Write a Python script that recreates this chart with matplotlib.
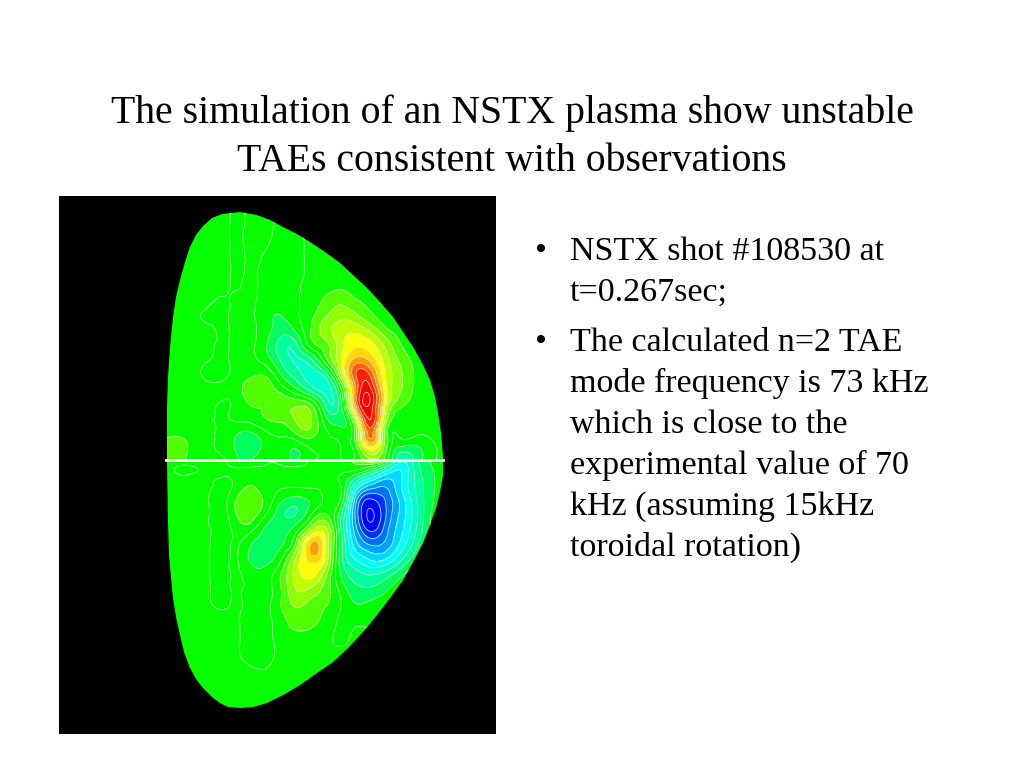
import numpy as np
import matplotlib
matplotlib.use('Agg')
import matplotlib.pyplot as plt
import matplotlib.tri as mtri
from matplotlib.patches import Polygon

# texto de la diapositiva
title_lines = ['The simulation of an NSTX plasma show unstable',
               'TAEs consistent with observations']
bullet_1 = ['NSTX shot #108530 at', 't=0.267sec;']
bullet_2 = ['The calculated n=2 TAE', 'mode frequency is 73 kHz', 'which is close to the',
            'experimental value of 70', 'kHz (assuming 15kHz', 'toroidal rotation)']

# rejilla (pixeles de la diapositiva), valores en numero de contornos
x_grid = [165, 185, 205, 225, 235, 250, 265, 280, 295, 310, 325, 340, 355, 370, 385, 400, 415, 430, 445]
y_upper = [205, 235, 260, 285, 300, 315, 330, 345, 360, 375, 390, 405, 420, 435, 450, 460]
y_lower = [460, 470, 485, 500, 515, 530, 545, 560, 575, 590, 605, 620, 640, 660, 680, 715]

z_upper = [
    [.4, .4, .4, .3, -.2, .3, .3, -.3, -.3, .2, .3, .3, .3, .3, .3, .3, .3, .3, .3],
    [.4, .4, .4, .3, -.2, .3, .3, -.3, -.3, .2, .3, .3, .3, .3, .3, .3, .3, .3, .3],
    [.4, .4, .4, .3, -.2, .2, -.2, -.3, -.3, .2, .3, .3, .3, .3, .3, .3, .3, .3, .3],
    [.4, .4, .4, .2, -.1, .2, -.3, -.4, -.2, .3, .4, .7, .5, .4, .3, .3, .3, .3, .3],
    [.4, .4, .3, -.1, .2, .2, -.3, -.5, -.1, .3, 1.2, 1.7, 1.1, .8, .5, .3, .3, .3, .3],
    [.4, .3, -.1, -.1, .2, .2, -.6, -1.0, -.3, .7, 1.8, 2.6, 2.2, 1.2, .6, .3, .3, .3, .3],
    [.4, .3, .3, -.1, .2, .2, -.5, -1.5, -.9, .9, 2.5, 3.5, 3.7, 2.8, 1.3, .6, .3, .3, .3],
    [.4, .4, .3, -.1, .2, .2, -.8, -2.4, -2.4, .3, 1.6, 3.5, 4.8, 4.4, 2.8, 1.1, .4, .3, .3],
    [.4, .3, .1, -.1, .2, .2, -.4, -2, -3.1, -2.3, .5, 3.7, 6.3, 5.8, 3.6, 1.8, .7, .3, .3],
    [.4, .4, -.1, -.1, .2, .7, .9, -.8, -2.4, -3.5, -2.6, 2.3, 7.8, 7.9, 4.1, 2.2, .9, .3, .3],
    [.4, .4, .3, .1, .3, 1.7, 1.6, .7, -.6, -2.2, -3.4, -.6, 6.8, 9.4, 4.6, 2.1, .8, .3, .3],
    [.3, .3, .3, -.1, .2, 1, 1.1, 1.7, 1.8, 1.3, -2, -1.6, 6.5, 9.8, 4.3, 1.3, .4, .3, .3],
    [.3, .1, .2, -.1, .1, .3, .9, 1.2, 2, 2.2, -.5, -1.5, 2.6, 9, 3, .7, .3, .3, .3],
    [.9, .8, .2, -.3, -.9, -1.3, -.4, .1, .7, 1.4, .2, -.4, 1.2, 7.3, 1.8, .2, .1, .1, .1],
    [1.1, 1.1, .2, -.3, -1, -1.5, -.6, -.2, -1.1, -.1, .2, .1, .3, 4, 1.4, -1.6, -1.5, -.3, .1],
    [1, 1, .1, .1, -.8, -1, -.3, -.2, -1, -.2, .2, .1, .2, 1.5, .8, -2.6, -1.8, -.3, .1],
]

z_lower = [
    [.3, .3, .2, .1, -.7, -.7, -.2, -.2, -.8, .1, .3, .7, 1.3, 3, .8, -3.5, -2.5, -.9, -.2],
    [.3, -.1, .1, .1, .1, .2, .1, .2, .3, .3, .2, .2, .1, -1.2, -3.5, -5, -2.8, -1.2, -.2],
    [.3, .3, .2, -.2, .2, 1, .4, .2, .2, .2, .2, .1, -3.5, -6, -6.8, -5.2, -3, -1.4, -.2],
    [.3, .3, .2, -.2, .9, 1.5, .8, -.7, -1.4, -.9, .3, 0, -6.2, -9.2, -8, -5.8, -3.3, -1.3, -.2],
    [.3, .3, .2, -.2, .8, 1.5, .1, -1.6, -2, -.2, 1.2, -1.5, -7, -10.2, -8.2, -5.8, -3.5, -1.1, -.2],
    [.3, .3, .2, -.2, .2, .3, -1.2, -1.5, -.5, 2.5, 3.4, -1.5, -6.4, -9.2, -7.6, -5.4, -3.2, -1, -.1],
    [.3, .3, .2, -.2, .1, -.9, -1.4, -1.1, 1.1, 6, 4.3, -1.2, -5.4, -7, -6.7, -4.8, -2.5, -.6, -.1],
    [.3, .3, .2, -.2, .1, -1.1, -1.3, -.2, 3, 5.3, 3.9, -1.3, -3.9, -5, -4.9, -3.2, -1.3, -.1, .1],
    [.3, .3, .2, -.2, .1, -.4, -.5, .9, 3.3, 4.3, 2.4, -.9, -2.5, -3, -2.5, -1.3, -.3, .1, .1],
    [.2, .3, .2, -.2, .1, -.3, -.3, .8, 2.9, 2.8, 1.6, -.2, -1.6, -1.8, -1.2, -.3, .1, .1, .1],
    [.2, .3, .2, -.1, .1, -.3, -.3, .9, 2.1, 1.7, 1.1, .1, -.9, -.7, -.2, .1, .1, .1, .1],
    [.2, .3, .2, .2, .1, -.2, -.2, .5, 1.5, 1.4, .7, -.1, -.2, -.1, .1, .1, .1, .1, .1],
    [.2, .3, .2, .2, .1, -.2, -.2, .2, .5, .4, .2, -.1, .1, .1, .1, .1, .1, .1, .1],
    [.2, .2, .2, .2, .1, -.1, -.2, .2, .2, .2, .2, .2, .2, .2, .2, .2, .2, .2, .2],
    [.2, .2, .2, .2, .2, .2, .2, .2, .2, .2, .2, .2, .2, .2, .2, .2, .2, .2, .2],
    [.2, .2, .2, .2, .2, .2, .2, .2, .2, .2, .2, .2, .2, .2, .2, .2, .2, .2, .2],
]

# borde del plasma
outline_x = [167, 167, 168, 170, 173, 176, 180, 185, 190, 196, 203, 212, 222, 240, 257, 270, 283, 297, 310, 325,
             340, 353, 367, 380, 393, 403, 413, 422, 430, 435, 438, 441, 443,
             443, 443, 440, 436, 430, 423, 413, 403, 390, 377, 363, 348, 333, 317, 300, 283, 267, 253, 240, 228,
             220, 212, 203, 196, 190, 184, 180, 176, 173, 171, 169, 168, 167]
outline_y = [433, 407, 377, 347, 317, 297, 280, 262, 247, 235, 226, 218, 214, 212, 215, 220, 227, 234, 242, 252,
             263, 275, 288, 302, 317, 332, 347, 363, 380, 397, 413, 433, 457,
             462, 475, 492, 508, 525, 543, 562, 580, 598, 615, 632, 648, 662, 673, 685, 695, 703, 707, 708, 707,
             703, 697, 688, 679, 668, 652, 635, 617, 598, 577, 555, 522, 462]

levels = list(range(-11, 12))
band_colors = ['#0000ff', '#0000ff', '#0030ff', '#0070ff', '#00a0ff', '#00d8ff', '#00ffff', '#00ffd0',
               '#00ffa0', '#00ff60', '#00ff00', '#08ff00', '#50ff00', '#90ff00', '#c0ff00', '#ffff00',
               '#ffd800', '#ffa000', '#ff6000', '#ff2000', '#ff0000', '#ff0000']

plt.rcParams['font.family'] = ['Liberation Serif']
fig = plt.figure(figsize=(10.24, 7.68), dpi=100, facecolor='white')

# panel negro con los contornos
ax = fig.add_axes([59 / 1024, 1 - 734 / 768, 437 / 1024, 538 / 768], facecolor='black')
ax.set_xlim(59, 496)
ax.set_ylim(734, 196)
ax.axis('off')
ax.add_patch(plt.Rectangle((59, 196), 437, 538, color='black', zorder=0))

clip = Polygon(np.column_stack([outline_x, outline_y]), closed=True, transform=ax.transData,
               facecolor='none', edgecolor='none')
ax.add_patch(clip)

for y_vals, z_vals in [(y_upper, z_upper), (y_lower, z_lower)]:
    xx, yy = np.meshgrid(x_grid, y_vals)
    tri = mtri.Triangulation(xx.ravel(), yy.ravel())
    tri_fine, z_fine = mtri.UniformTriRefiner(tri).refine_field(np.array(z_vals).ravel(), subdiv=3)
    cf = ax.tricontourf(tri_fine, z_fine, levels=levels, colors=band_colors)
    cl = ax.tricontour(tri_fine, z_fine, levels=levels, colors='#d8ffd8', linewidths=0.6, alpha=0.8,
                       linestyles='solid')
    cf.set_clip_path(clip)
    cl.set_clip_path(clip)

ax.plot([166, 443], [460, 460], color='white', lw=2)

# texto sobre toda la figura, en pixeles
tx = fig.add_axes([0, 0, 1, 1], facecolor='none')
tx.set_xlim(0, 1024)
tx.set_ylim(768, 0)
tx.axis('off')

for y, line in zip([123, 171], title_lines):
    tx.text(512, y, line, fontsize=28.6, ha='center', va='baseline', color='black')

body_y = [260, 301]
for y, line in zip(body_y, bullet_1):
    tx.text(570, y, line, fontsize=24.5, va='baseline', color='black')
tx.text(534, body_y[0], '•', fontsize=24.5, va='baseline', color='black')

body_y = [351, 392, 433, 474, 515, 556]
for y, line in zip(body_y, bullet_2):
    tx.text(570, y, line, fontsize=24.5, va='baseline', color='black')
tx.text(534, body_y[0], '•', fontsize=24.5, va='baseline', color='black')

fig.savefig('out.png', dpi=100)
